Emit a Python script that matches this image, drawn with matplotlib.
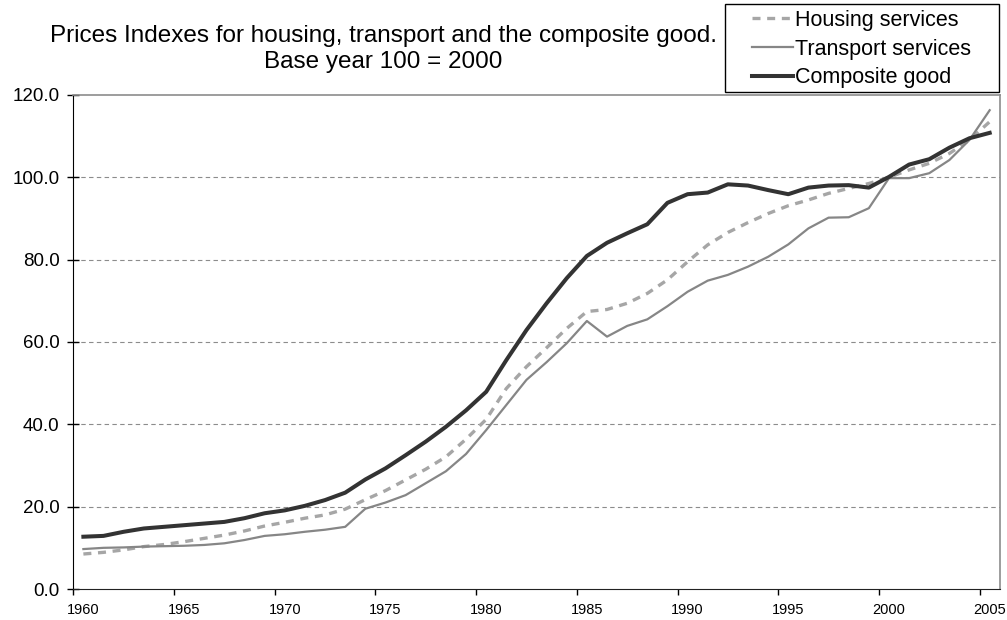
import matplotlib
matplotlib.use("Agg")
import matplotlib.pyplot as plt
from matplotlib.patches import Rectangle

plt.rcParams['font.family'] = ['Liberation Sans', 'DejaVu Sans']

years = list(range(1960, 2006))

housing = [8.5, 8.9, 9.5, 10.3, 10.8, 11.5, 12.3, 13.1, 14.1, 15.3,
           16.2, 17.2, 18.0, 19.4, 21.7, 23.9, 26.5, 29.1, 32.1, 36.4,
           41.2, 48.7, 54.0, 58.6, 63.3, 67.4, 67.9, 69.4, 71.8, 75.1,
           79.5, 83.6, 86.6, 89.0, 91.2, 93.1, 94.5, 96.1, 97.3, 98.5,
           100.0, 101.8, 103.4, 105.8, 109.1, 113.5]

transport = [9.7, 10.0, 10.1, 10.3, 10.4, 10.5, 10.7, 11.1, 11.9, 12.9,
             13.3, 13.9, 14.4, 15.1, 19.5, 21.0, 22.8, 25.7, 28.6, 32.8,
             38.6, 44.7, 50.8, 55.1, 59.7, 65.1, 61.3, 63.9, 65.5, 68.7,
             72.2, 74.9, 76.3, 78.3, 80.7, 83.7, 87.6, 90.2, 90.3, 92.5,
             99.8, 99.8, 101.0, 104.2, 109.1, 116.3]

composite = [12.7, 12.9, 13.9, 14.7, 15.1, 15.5, 15.9, 16.3, 17.2, 18.4,
             19.1, 20.2, 21.6, 23.4, 26.6, 29.3, 32.5, 35.8, 39.4, 43.4,
             47.9, 55.6, 62.9, 69.4, 75.5, 80.9, 84.1, 86.4, 88.6, 93.8,
             95.9, 96.3, 98.3, 98.0, 96.9, 95.9, 97.5, 98.0, 98.1, 97.5,
             100.1, 103.1, 104.4, 107.2, 109.5, 110.8]

y_ticks = [0, 20, 40, 60, 80, 100, 120]
x_labels = years[::5]

W, H = 1007, 620
fig = plt.figure(figsize=(W / 100, H / 100), dpi=100)
ax = fig.add_axes([0.0728, 0.05, 0.92, 0.7968])

# grid first so the lines sit on top of it
for v in y_ticks[1:-1]:
    ax.axhline(v, color='#8c8c8c', lw=0.8, ls=(0, (4, 3)), zorder=1)

h1, = ax.plot(years, housing, color='#a6a6a6', lw=2.4, dashes=(2.4, 2.0),
              dash_capstyle='butt', label='Housing services', zorder=3)
h2, = ax.plot(years, transport, color='#868686', lw=1.6,
              label='Transport services', zorder=3)
h3, = ax.plot(years, composite, color='#333333', lw=2.9,
              label='Composite good', zorder=4)

ax.set_xlim(1959.5, 2005.5)
ax.set_ylim(0, 120)
ax.set_yticks(y_ticks)
ax.set_yticklabels(['%.1f' % v for v in y_ticks], fontsize=13.5)
ax.tick_params(axis='y', direction='inout', length=8, width=1, pad=6)

# labels on the category centres, tick marks on the boundaries (Excel-like)
ax.set_xticks(x_labels)
ax.set_xticklabels([str(y) for y in x_labels], fontsize=10.5)
ax.set_xticks([y - 0.5 for y in x_labels], minor=True)
ax.tick_params(axis='x', which='major', length=0, pad=10)
ax.tick_params(axis='x', which='minor', direction='out', length=4, width=1)

for side in ['top', 'right']:
    ax.spines[side].set_color('#8c8c8c')
    ax.spines[side].set_linewidth(1.2)
ax.spines['left'].set_color('black')
ax.spines['bottom'].set_color('#222222')

fig.text(383 / W, 1 - 49 / H,
         'Prices Indexes for housing, transport and the composite good.\nBase year 100 = 2000',
         ha='center', va='center', fontsize=17.5, linespacing=1.2)

# legend without its own frame; the box is wider than the entries, like Excel's
leg = fig.legend(handles=[h1, h2, h3], loc='upper left',
                 bbox_to_anchor=(752 / W, 1 - 10 / H), fontsize=15.5,
                 frameon=False, handlelength=1.9, handletextpad=0.1,
                 labelspacing=0.36, borderpad=0, borderaxespad=0)
fig.patches.append(Rectangle((725 / W, 1 - 92 / H), 274 / W, 88 / H,
                             transform=fig.transFigure, fill=False,
                             edgecolor='black', lw=1.0))

fig.savefig('out.png', dpi=100)
